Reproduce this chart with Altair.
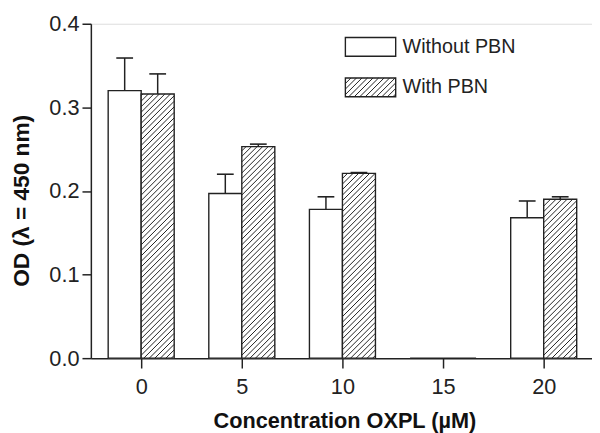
import altair as alt
import pandas as pd

# ---- data ----
conc = [0, 5, 10, 15, 20]
series = ["Without PBN", "With PBN"]
without_mean = [0.320, 0.197, 0.178, 0.0, 0.168]
without_upper = [0.359, 0.220, 0.193, 0.0, 0.188]
with_mean = [0.316, 0.253, 0.221, 0.0, 0.190]
with_upper = [0.340, 0.256, 0.222, 0.0, 0.193]
y_ticks = [0.0, 0.1, 0.2, 0.3, 0.4]

# ---- layout ----
W, H = 508, 339
XMIN, XMAX = -2.5, 22.4
YMAX = 0.4
BW = 1.64          # bar width in x units
CAP = 17           # cap width in px
HATCH = 5.6        # hatch spacing in px
PX_X = W / (XMAX - XMIN)
PX_Y = H / YMAX
FONT = "Liberation Sans"
INK = "#222222"


def hatch_segments(w, h, step):
    """diagonal '/' segments inside a w x h box, local coords with v up"""
    segs = []
    c = -w + step / 2.0
    while c < h:
        u0 = max(0.0, -c)
        u1 = min(w, h - c)
        if u1 > u0:
            segs.append((u0, u0 + c, u1, u1 + c))
        c += step
    return segs


bar_rows, err_rows, hatch_rows = [], [], []
for i, c in enumerate(conc):
    for s, m, up, x0 in ((series[0], without_mean[i], without_upper[i], c - BW),
                         (series[1], with_mean[i], with_upper[i], c)):
        x1 = x0 + BW
        xc = (x0 + x1) / 2
        bar_rows.append({"series": s, "x0": x0, "x1": x1, "y": m})
        if up > m:
            err_rows.append({"series": s, "xc": xc, "y": m, "up": up,
                             "cx0": xc - CAP / 2 / PX_X, "cx1": xc + CAP / 2 / PX_X})
        if s == series[1] and m > 0:
            for (u0, v0, u1, v1) in hatch_segments(BW * PX_X, m * PX_Y, HATCH):
                hatch_rows.append({"hx0": x0 + u0 / PX_X, "hy0": v0 / PX_Y,
                                   "hx1": x0 + u1 / PX_X, "hy1": v1 / PX_Y})

bars_df = pd.DataFrame(bar_rows)
err_df = pd.DataFrame(err_rows)
hatch_df = pd.DataFrame(hatch_rows)

xscale = alt.Scale(domain=[XMIN, XMAX], nice=False, zero=False)
yscale = alt.Scale(domain=[0, YMAX], nice=False)

xaxis = alt.Axis(values=conc, format="d", grid=False, tickSize=10, tickWidth=1.5,
                 domainWidth=1.5, domainColor=INK, tickColor=INK,
                 labelFont=FONT, labelFontSize=22, labelColor=INK,
                 labelBaseline="middle", labelPadding=19, labelFlush=False,
                 title="Concentration OXPL (µM)", titleFont=FONT, titleFontSize=22,
                 titleFontWeight="bold", titleColor="#111111",
                 titleX=257, titleY=63, titleBaseline="middle", titleAlign="center")
yaxis = alt.Axis(values=y_ticks, format=".1f", grid=False, tickSize=9, tickWidth=1.5,
                 domainWidth=1.5, domainColor=INK, tickColor=INK,
                 labelFont=FONT, labelFontSize=22, labelColor=INK, labelPadding=3,
                 title="OD (λ = 450 nm)", titleFont=FONT, titleFontSize=23,
                 titleFontWeight="bold", titleColor="#111111",
                 titleX=-70, titleY=179, titleBaseline="middle", titleAlign="center")

bars = alt.Chart(bars_df).mark_bar(fill="white", stroke=INK, strokeWidth=1.4).encode(
    x=alt.X("x0:Q", scale=xscale, axis=xaxis),
    x2="x1:Q",
    y=alt.Y("y:Q", scale=yscale, axis=yaxis),
    y2=alt.datum(0),
)

hatch = alt.Chart(hatch_df).mark_rule(color=INK, strokeWidth=1.0).encode(
    x=alt.X("hx0:Q", scale=xscale), x2="hx1:Q",
    y=alt.Y("hy0:Q", scale=yscale), y2="hy1:Q",
)

err_line = alt.Chart(err_df).mark_rule(color=INK, strokeWidth=1.5).encode(
    x=alt.X("xc:Q", scale=xscale),
    y=alt.Y("y:Q", scale=yscale), y2="up:Q",
)
err_cap = alt.Chart(err_df).mark_rule(color=INK, strokeWidth=1.6).encode(
    x=alt.X("cx0:Q", scale=xscale), x2="cx1:Q",
    y=alt.Y("up:Q", scale=yscale),
)

main = alt.layer(bars, hatch, err_line, err_cap)

# ---- legend (drawn in plot-pixel space) ----
leg_labels = series
leg_x0, leg_x1 = 258, 309
leg_tops = [14, 55]
leg_h = 19
leg_text_x = 316

leg_box = pd.DataFrame({"label": leg_labels,
                        "x0": [leg_x0] * 2, "x1": [leg_x1] * 2,
                        "t": leg_tops, "b": [t + leg_h for t in leg_tops],
                        "ty": [t + leg_h / 2 for t in leg_tops],
                        "tx": [leg_text_x] * 2})
leg_hatch_rows = []
for (u0, v0, u1, v1) in hatch_segments(leg_x1 - leg_x0, leg_h, HATCH):
    bottom = leg_tops[1] + leg_h
    leg_hatch_rows.append({"hx0": leg_x0 + u0, "hy0": bottom - v0,
                           "hx1": leg_x0 + u1, "hy1": bottom - v1})
leg_hatch_df = pd.DataFrame(leg_hatch_rows)

lx = alt.Scale(domain=[0, W], nice=False, zero=False)
ly = alt.Scale(domain=[0, H], nice=False, reverse=True)

leg_rect = alt.Chart(leg_box).mark_rect(fill="white", stroke=INK, strokeWidth=1.4).encode(
    x=alt.X("x0:Q", scale=lx, axis=None), x2="x1:Q",
    y=alt.Y("t:Q", scale=ly, axis=None), y2="b:Q",
)
leg_h_lines = alt.Chart(leg_hatch_df).mark_rule(color=INK, strokeWidth=1.0).encode(
    x=alt.X("hx0:Q", scale=lx, axis=None), x2="hx1:Q",
    y=alt.Y("hy0:Q", scale=ly, axis=None), y2="hy1:Q",
)
leg_text = alt.Chart(leg_box).mark_text(align="left", baseline="middle", font=FONT,
                                        fontSize=20, color=INK).encode(
    x=alt.X("tx:Q", scale=lx, axis=None),
    y=alt.Y("ty:Q", scale=ly, axis=None),
    text="label:N",
)
legend = alt.layer(leg_rect, leg_h_lines, leg_text)

chart = alt.layer(main, legend).resolve_scale(x="independent", y="independent").properties(
    width=W, height=H,
    padding={"left": 84, "top": 13, "right": 0, "bottom": 80},
    autosize=alt.AutoSizeParams(type="none"),
).configure_view(stroke=None).configure(background="white")

chart.save("out.html", embed_options={"renderer": "svg", "actions": False})
